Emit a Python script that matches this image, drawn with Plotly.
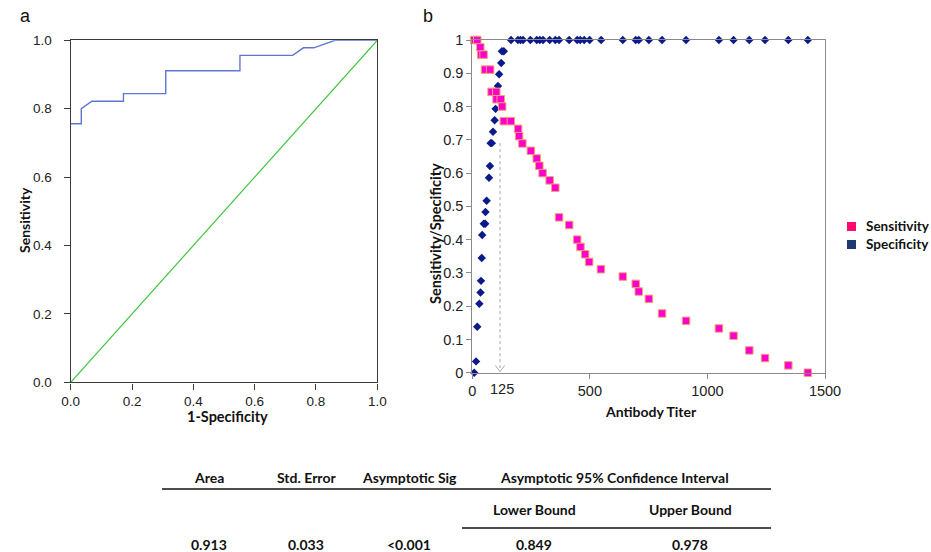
import plotly.graph_objects as go

W, H = 931, 552

# ---------------- data ----------------
roc_fpr = [0, 0.0345, 0.0345, 0.069, 0.172, 0.172, 0.310, 0.310, 0.552, 0.552, 0.724, 0.759, 0.793, 0.862, 1.0]
roc_tpr = [0.756, 0.756, 0.800, 0.822, 0.822, 0.844, 0.844, 0.911, 0.911, 0.956, 0.956, 0.978, 0.978, 1.0, 1.0]
ref_x = [0, 1]
ref_y = [0, 1]

spec_titer = [8, 16, 21, 30, 35, 37, 40, 42, 49, 55, 56, 61, 71, 75, 78, 83, 88, 95, 99, 105, 109, 114, 123, 126, 134,
              165, 194, 205, 216, 247, 274, 287, 301, 329, 353, 369, 412, 446, 459, 476, 499, 548,
              640, 695, 708, 751, 807, 909, 1049, 1111, 1178, 1245, 1344, 1427]
spec_val = [0, 0.034, 0.138, 0.207, 0.241, 0.276, 0.345, 0.414, 0.448, 0.448, 0.483, 0.517, 0.586, 0.621, 0.690,
            0.690, 0.724, 0.759, 0.793, 0.828, 0.862, 0.897, 0.931, 0.966, 0.966] + [1] * 29

sens_titer = [8, 21, 34, 38, 48, 54, 76, 82, 102, 103, 121, 127, 134, 164,
              195, 199, 213, 249, 274, 285, 299, 329, 353,
              369, 412, 446, 460, 480, 497, 547,
              640, 695, 708, 751, 807, 909, 1049, 1111, 1178, 1245, 1344, 1427]
sens_val = [1, 1, 0.978, 0.956, 0.956, 0.911, 0.911, 0.844, 0.844, 0.822, 0.822, 0.800, 0.756, 0.756,
            0.733, 0.711, 0.689, 0.667, 0.644, 0.622, 0.600, 0.578, 0.556,
            0.467, 0.444, 0.400, 0.378, 0.356, 0.333, 0.311,
            0.289, 0.267, 0.244, 0.222, 0.178, 0.156, 0.133, 0.111, 0.067, 0.044, 0.022, 0]
cutoff = 118

roc_ticks = [0, 0.2, 0.4, 0.6, 0.8, 1.0]
roc_ticklabels = ["0.0", "0.2", "0.4", "0.6", "0.8", "1.0"]
b_xticks = [0, 500, 1000, 1500]
b_yticks = [0, 0.1, 0.2, 0.3, 0.4, 0.5, 0.6, 0.7, 0.8, 0.9, 1]
b_yticklabels = ["0", "0.1", "0.2", "0.3", "0.4", "0.5", "0.6", "0.7", "0.8", "0.9", "1"]

table_header = ["Area", "Std. Error", "Asymptotic Sig", "Asymptotic 95% Confidence Interval"]
table_sub = ["Lower Bound", "Upper Bound"]
table_values = ["0.913", "0.033", "<0.001", "0.849", "0.978"]

# --------------- helpers ---------------
def px(x):
    return x / W

def py(y):
    return 1 - y / H

TICKF = dict(family="Liberation Sans, Arial, sans-serif", size=13.5, color="#222")
BOLD = "Lato, Carlito, Calibri, sans-serif"

fig = go.Figure()

# Panel a
fig.add_trace(go.Scatter(x=roc_fpr, y=roc_tpr, mode="lines", line=dict(color="#5E78D2", width=1.4),
                         xaxis="x", yaxis="y", showlegend=False, cliponaxis=False))
fig.add_trace(go.Scatter(x=ref_x, y=ref_y, mode="lines", line=dict(color="#3EC43E", width=1.2),
                         xaxis="x", yaxis="y", showlegend=False))

# Panel b
fig.add_trace(go.Scatter(x=spec_titer, y=spec_val, mode="markers",
                         marker=dict(symbol="diamond", size=6.5, color="#0A1A8A", line=dict(width=0)),
                         xaxis="x2", yaxis="y2", showlegend=False, cliponaxis=False))
fig.add_trace(go.Scatter(x=sens_titer, y=sens_val, mode="markers",
                         marker=dict(symbol="square", size=7.5, color="#FF00CC", line=dict(width=1, color="#F2A27A")),
                         xaxis="x2", yaxis="y2", showlegend=False, cliponaxis=False))

axis_a = dict(range=[0, 1], tickvals=roc_ticks, ticktext=roc_ticklabels, showgrid=False, zeroline=False,
              showline=True, mirror=True, linecolor="#3a3a3a", linewidth=1.4, ticks="outside", ticklen=6,
              tickcolor="#3a3a3a", tickfont=TICKF, automargin=False)
axis_b = dict(showgrid=False, zeroline=False, showline=True, mirror=True, linecolor="#8a8a8a", linewidth=1.2,
              ticks="outside", ticklen=5, tickcolor="#8a8a8a", tickfont=dict(TICKF, size=14.5), automargin=False)
fig.update_layout(
    xaxis=dict(axis_a, domain=[px(70.7), px(377.3)], anchor="y"),
    yaxis=dict(axis_a, domain=[py(382.3), py(40.3)], anchor="x", ticklabelstandoff=9),
    xaxis2=dict(axis_b, range=[0, 1500], tickvals=b_xticks, domain=[px(472.3), px(825)], anchor="y2"),
    yaxis2=dict(axis_b, range=[0, 1], tickvals=b_yticks, ticktext=b_yticklabels,
                domain=[py(372.7), py(40)], anchor="x2"),
    width=W, height=H, margin=dict(l=0, r=0, t=0, b=0, autoexpand=False),
    paper_bgcolor="white", plot_bgcolor="white", showlegend=False,
)

ann = []
shapes = []

def text(x, y, s, size=14, bold=True, angle=0, xanchor="center", family=None, color="#111"):
    ann.append(dict(x=px(x), y=py(y), xref="paper", yref="paper", text=("<b>%s</b>" % s) if bold else s,
                    showarrow=False, xanchor=xanchor, yanchor="middle", textangle=angle,
                    font=dict(family=family or BOLD, size=size, color=color)))

# panel labels
text(25, 16, "a", size=18, bold=False, family="Liberation Sans, Arial")
text(428, 16, "b", size=18, bold=False, family="Liberation Sans, Arial")
# axis titles
text(24, 220, "Sensitivity", size=14, angle=-90)
text(227, 416, "1-Specificity", size=14.5)
text(435, 234, "Sensitivity/Specificity", size=14.5, angle=-90)
text(651, 411, "Antibody Titer", size=14)
# 125 label
ann.append(dict(x=125, y=py(389), xref="x2", yref="paper", text="125", showarrow=False, yanchor="middle",
                font=dict(TICKF, size=14.5)))

# cutoff arrow
shapes.append(dict(type="line", xref="x2", yref="y2", x0=cutoff, x1=cutoff, y0=0.69, y1=0.003,
                   line=dict(color="#a8a8a8", width=1, dash="dot")))
shapes.append(dict(type="line", xref="x2", yref="y2", x0=cutoff - 20, x1=cutoff, y0=0.022, y1=0.003,
                   line=dict(color="#a8a8a8", width=1)))
shapes.append(dict(type="line", xref="x2", yref="y2", x0=cutoff + 20, x1=cutoff, y0=0.022, y1=0.003,
                   line=dict(color="#a8a8a8", width=1)))

# legend
shapes.append(dict(type="rect", xref="paper", yref="paper", x0=px(847), x1=px(856), y0=py(231), y1=py(222),
                   fillcolor="#FF0A6E", line=dict(width=0)))
shapes.append(dict(type="rect", xref="paper", yref="paper", x0=px(847), x1=px(856), y0=py(249), y1=py(240),
                   fillcolor="#1F3A6E", line=dict(width=0)))
text(864, 226, "Sensitivity", size=13.5, xanchor="left")
text(864, 244, "Specificity", size=13.5, xanchor="left")

# table
for s, x in zip(table_header, [209, 306, 409, 614]):
    text(x, 477, s, size=14)
for s, x in zip(table_sub, [534, 690]):
    text(x, 509, s, size=14)
for s, x in zip(table_values, [209, 306, 409, 534, 690]):
    text(x, 544, s, size=14)
shapes.append(dict(type="line", xref="paper", yref="paper", x0=px(162), x1=px(771), y0=py(489), y1=py(489),
                   line=dict(color="#111", width=1.5)))
shapes.append(dict(type="line", xref="paper", yref="paper", x0=px(462), x1=px(771), y0=py(528), y1=py(528),
                   line=dict(color="#111", width=1.5)))

fig.update_layout(annotations=ann, shapes=shapes)
fig.write_html("out.html", config={"displayModeBar": False},
               post_script="document.body.style.margin='0';document.body.style.overflow='hidden';")
